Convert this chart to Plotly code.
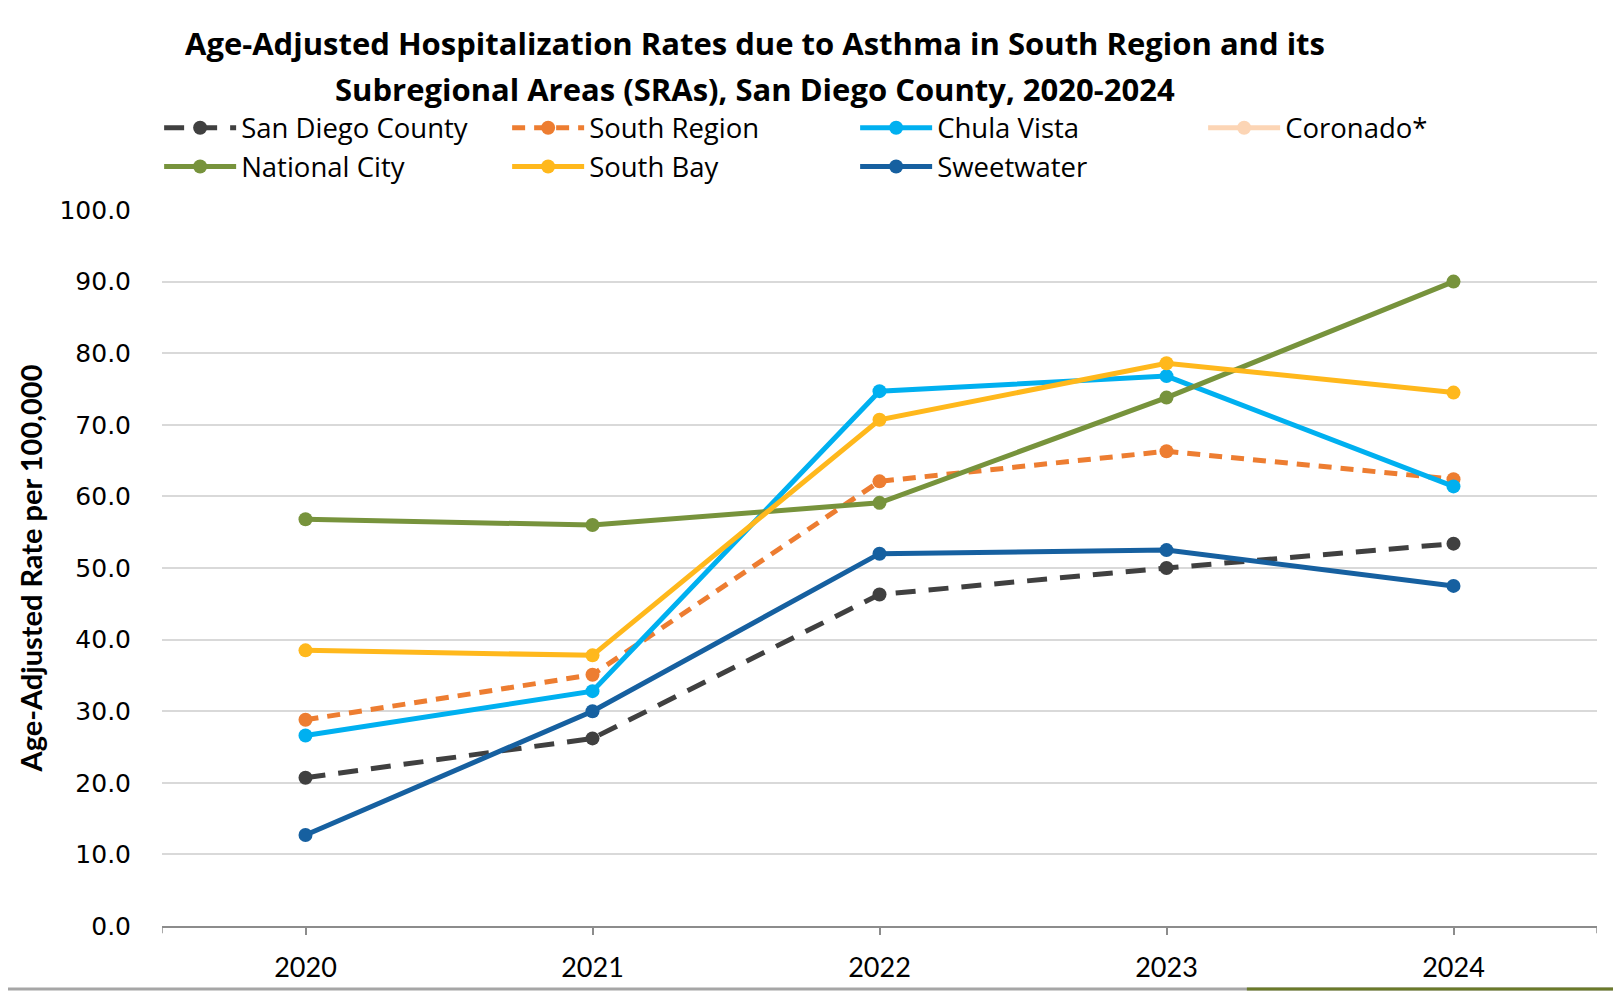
import plotly.graph_objects as go

years = ["2020", "2021", "2022", "2023", "2024"]
san_diego_county = [20.7, 26.2, 46.3, 50.0, 53.4]
south_region = [28.8, 35.1, 62.1, 66.3, 62.4]
chula_vista = [26.6, 32.8, 74.7, 76.8, 61.4]
coronado = [None, None, None, None, None]
national_city = [56.8, 56.0, 59.1, 73.8, 90.0]
south_bay = [38.5, 37.8, 70.7, 78.6, 74.5]
sweetwater = [12.7, 30.0, 52.0, 52.5, 47.5]
y_ticks = [0, 10, 20, 30, 40, 50, 60, 70, 80, 90, 100]
title_lines = [
    "Age-Adjusted Hospitalization Rates due to Asthma in South Region and its",
    "Subregional Areas (SRAs), San Diego County, 2020-2024",
]

series = [
    ("San Diego County", san_diego_county, "#404040", "20px,13px"),
    ("South Region", south_region, "#ED7D31", "13px,9px"),
    ("Chula Vista", chula_vista, "#00B0F0", "solid"),
    ("Coronado*", coronado, "#FCD5B5", "solid"),
    ("National City", national_city, "#77933C", "solid"),
    ("South Bay", south_bay, "#FFB81C", "solid"),
    ("Sweetwater", sweetwater, "#1660A0", "solid"),
]

fig = go.Figure()
for name, vals, color, dash in series:
    fig.add_trace(go.Scatter(
        x=years, y=vals, name=name, mode="lines+markers",
        line=dict(color=color, width=5, dash=dash),
        marker=dict(color=color, size=14, symbol="circle"),
        connectgaps=False,
    ))

W, H = 1613, 983
fig.update_layout(
    width=W, height=H,
    paper_bgcolor="white", plot_bgcolor="white",
    margin=dict(l=154, r=24, t=202, b=65, autoexpand=False),
    legend=dict(
        orientation="h", x=-0.002, xanchor="left", y=1.149, yanchor="top",
        entrywidth=261, entrywidthmode="pixels", itemwidth=72,
        font=dict(family="Open Sans", size=27.5, color="black"),
        tracegroupgap=0, bgcolor="rgba(0,0,0,0)",
    ),
    showlegend=True,
)

for line, yv in zip(title_lines, [1.2327, 1.169]):
    fig.add_annotation(
        text=f"<b>{line}</b>", xref="paper", yref="paper", x=0.413, y=yv,
        xanchor="center", yanchor="middle", showarrow=False,
        font=dict(family="Open Sans", size=31, color="black"),
    )

fig.update_xaxes(
    type="category", range=[-0.5, 4.5],
    showline=True, linecolor="#8c8c8c", linewidth=1.5,
    ticks="outside", ticklen=7, tickcolor="#8c8c8c", tickwidth=1.5,
    showgrid=False, zeroline=False,
    tickfont=dict(family="Lato", size=27, color="black"),
    ticklabelstandoff=10,
)
fig.update_yaxes(
    range=[0, 100], tickvals=y_ticks, ticktext=[f"{v:.1f}" for v in y_ticks],
    showgrid=True, gridcolor="#d9d9d9", gridwidth=1.5,
    showline=False, zeroline=False, ticks="",
    tickfont=dict(family="DejaVu Sans", size=25, color="black"),
    ticklabelstandoff=30,
    title=dict(text="<b>Age-Adjusted Rate per 100,000</b>",
               font=dict(family="Lato", size=29, color="black"),
               standoff=8),
)

# boundary ticks at the ends of the category axis
for xv in [-0.5, 4.5]:
    fig.add_shape(type="line", xref="x", yref="paper", x0=xv, x1=xv, y0=0, y1=-0.01,
                  line=dict(color="#8c8c8c", width=1.5))
# frame edges
fig.add_shape(type="line", xref="paper", yref="paper", x0=-0.11, x1=1.0167, y0=-0.088, y1=-0.088,
              line=dict(color="#a6a6a6", width=3))
fig.add_shape(type="line", xref="paper", yref="paper", x0=0.756, x1=1.0167, y0=-0.088, y1=-0.088,
              line=dict(color="#6b7a2a", width=3))
fig.add_shape(type="line", xref="paper", yref="paper", x0=1.0145, x1=1.0145, y0=-0.088, y1=1.29,
              line=dict(color="#a6a6a6", width=2))

fig.write_html("out.html")
